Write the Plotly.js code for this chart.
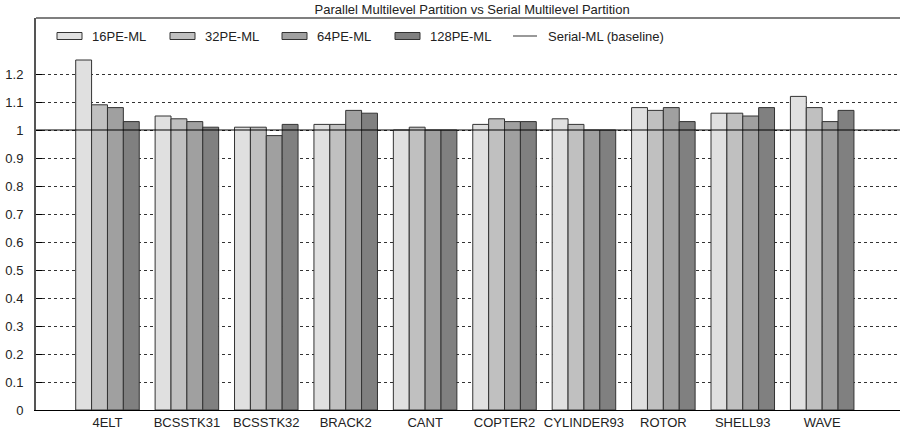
<!DOCTYPE html>
<html>
<head>
<meta charset="utf-8">
<script src="https://cdn.plot.ly/plotly-3.0.1.min.js"></script>
<style>
  html, body { margin: 0; padding: 0; background: #fff; }
  #chart { width: 901px; height: 435px; }
</style>
</head>
<body>
<div id="chart"></div>
<script>
// Graph instances (one bar group each)
const graphs = ['4ELT', 'BCSSTK31', 'BCSSTK32', 'BRACK2', 'CANT',
                'COPTER2', 'CYLINDER93', 'ROTOR', 'SHELL93', 'WAVE'];

// Edge-cut ratio of each parallel run relative to the serial partitioner
const pe16  = [1.25, 1.05, 1.01, 1.02, 1.00, 1.02, 1.04, 1.08, 1.06, 1.12];
const pe32  = [1.09, 1.04, 1.01, 1.02, 1.01, 1.04, 1.02, 1.07, 1.06, 1.08];
const pe64  = [1.08, 1.03, 0.98, 1.07, 1.00, 1.03, 1.00, 1.08, 1.05, 1.03];
const pe128 = [1.03, 1.01, 1.02, 1.06, 1.00, 1.03, 1.00, 1.03, 1.08, 1.07];

const seriesNames = ['16PE-ML', '32PE-ML', '64PE-ML', '128PE-ML'];
const baselineName = 'Serial-ML (baseline)';
const baseline = 1;

const yTicks = [0, 0.1, 0.2, 0.3, 0.4, 0.5, 0.6, 0.7, 0.8, 0.9, 1, 1.1, 1.2];
const yTickText = ['0', '0.1', '0.2', '0.3', '0.4', '0.5', '0.6', '0.7', '0.8', '0.9', '1', '1.1', '1.2'];

const fills = ['#e0e0e0', '#c0c0c0', '#a0a0a0', '#808080'];
const FONT = 'Liberation Sans, Arial, Helvetica, sans-serif';

const values = [pe16, pe32, pe64, pe128];
const traces = values.map((v, i) => ({
  type: 'bar',
  name: seriesNames[i],
  x: graphs,
  y: v,
  marker: { color: fills[i], line: { color: '#333333', width: 1 } },
  showlegend: false,
  hoverinfo: 'x+y+name'
}));

// Plot-area geometry used to place the hand-drawn legend
const L = 36, R = 900, T = 18, B = 410;
const px = x => (x - L) / (R - L);
const py = y => (B - y) / (B - T);

const shapes = [
  // serial baseline across the whole plot
  { type: 'line', xref: 'paper', yref: 'y', x0: 0, x1: 1, y0: baseline, y1: baseline,
    line: { color: '#000', width: 1.2 }, layer: 'above' },
  // top frame line
  { type: 'line', xref: 'paper', yref: 'paper', x0: 0, x1: 1, y0: 1, y1: 1,
    line: { color: '#000', width: 1.2 }, layer: 'above' }
];
const annotations = [];

const legendX = [57, 170, 282, 395];
seriesNames.forEach((name, i) => {
  shapes.push({ type: 'rect', xref: 'paper', yref: 'paper',
    x0: px(legendX[i]), x1: px(legendX[i] + 25), y0: py(39.5), y1: py(32.5),
    fillcolor: fills[i], line: { color: '#333333', width: 1 }, layer: 'above' });
  annotations.push({ xref: 'paper', yref: 'paper', x: px(legendX[i] + 33), y: py(36),
    xanchor: 'left', yanchor: 'middle', showarrow: false, text: name,
    font: { family: FONT, size: 13, color: '#222' } });
});
shapes.push({ type: 'line', xref: 'paper', yref: 'paper',
  x0: px(513), x1: px(537), y0: py(36), y1: py(36),
  line: { color: '#555', width: 1.2 }, layer: 'above' });
annotations.push({ xref: 'paper', yref: 'paper', x: px(546), y: py(36),
  xanchor: 'left', yanchor: 'middle', showarrow: false, text: baselineName,
  font: { family: FONT, size: 13, color: '#222' } });

const layout = {
  width: 901, height: 435,
  margin: { l: L, r: 901 - R, t: T, b: 435 - B, pad: 0 },
  paper_bgcolor: '#fff', plot_bgcolor: '#fff',
  font: { family: FONT, size: 13, color: '#222' },
  title: { text: 'Parallel Multilevel Partition vs Serial Multilevel Partition',
    font: { family: FONT, size: 13, color: '#222' },
    x: 0.524, xref: 'container', xanchor: 'center',
    y: 1 - 9 / 435, yref: 'container', yanchor: 'middle' },
  barmode: 'group', bargap: 0.2, bargroupgap: 0,
  xaxis: { type: 'category', range: [-0.9, 9.98], showgrid: false, zeroline: false,
    showline: true, linecolor: '#000', linewidth: 1.2, ticks: '', ticklen: 0,
    tickfont: { family: FONT, size: 13, color: '#222' }, fixedrange: true },
  yaxis: { range: [0, 1.4], tickmode: 'array', tickvals: yTicks, ticktext: yTickText,
    showgrid: true, gridcolor: '#333', griddash: 'dot', gridwidth: 1,
    zeroline: false, showline: true, linecolor: '#555', linewidth: 2,
    ticks: 'inside', ticklen: 6, tickcolor: '#000', tickwidth: 1,
    ticklabelstandoff: 8,
    tickfont: { family: FONT, size: 13, color: '#222' }, fixedrange: true },
  shapes: shapes,
  annotations: annotations,
  showlegend: false
};

Plotly.newPlot('chart', traces, layout, { displayModeBar: false, staticPlot: true });
</script>
</body>
</html>
